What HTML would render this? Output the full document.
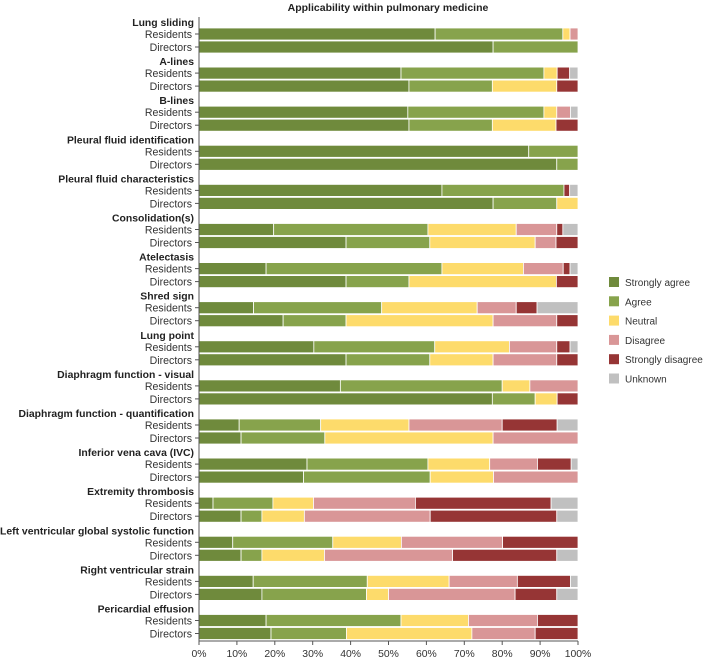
<!DOCTYPE html>
<html><head><meta charset="utf-8"><style>
body{margin:0;background:#fff}
svg{display:block;font-family:"Liberation Sans",sans-serif}
</style></head><body>
<svg id="chart" width="704" height="661"></svg>
<script>
const groups=["Lung sliding","A-lines","B-lines","Pleural fluid identification","Pleural fluid characteristics","Consolidation(s)","Atelectasis","Shred sign","Lung point","Diaphragm function - visual","Diaphragm function - quantification","Inferior vena cava (IVC)","Extremity thrombosis","Left ventricular global systolic function","Right ventricular strain","Pericardial effusion"];
const respondents=["Residents","Directors"];
const seriesNames=["Strongly agree","Agree","Neutral","Disagree","Strongly disagree","Unknown"];
const stronglyAgree=[62.3,77.6,53.3,55.4,55.1,55.4,87,94.4,64.1,77.6,19.7,38.8,17.7,38.8,14.4,22.2,30.3,38.8,37.3,77.4,10.6,11.1,28.5,27.6,3.7,11.1,8.9,11.1,14.3,16.6,17.7,19];
const agree=[33.7,22.4,37.7,22,35.9,22,13,5.6,32.2,16.8,40.7,22.1,46.4,16.6,33.8,16.6,31.9,22.1,42.7,11.3,21.5,22.1,31.9,33.4,15.8,5.5,26.4,5.5,30.1,27.6,35.6,19.9];
const neutral=[1.9,0,3.5,17,3.4,16.8,0,0,0,5.6,23.3,27.8,21.5,38.9,25.2,38.8,19.7,16.7,7.3,5.8,23.3,44.4,16.3,16.7,10.7,11.2,18.1,16.5,21.6,5.8,17.8,33.1];
const disagree=[2.1,0,0,0,3.6,0,0,0,0,0,10.7,5.5,10.5,0,10.3,16.8,12.5,16.8,12.7,0,24.6,22.4,12.6,22.3,26.9,33.2,26.7,33.8,18,33.4,18.2,16.7];
const stronglyDisagree=[0,0,3.3,5.6,0,5.8,0,0,1.5,0,1.6,5.8,1.8,5.7,5.5,5.6,3.5,5.6,0,5.5,14.5,0,8.9,0,35.8,33.4,19.9,27.5,14,11,10.7,11.3];
const unknown=[0,0,2.2,0,2,0,0,0,2.2,0,4,0,2.1,0,10.8,0,2.1,0,0,0,5.5,0,1.8,0,7.1,5.6,0,5.6,2,5.6,0,0];
const xTicks=[0,10,20,30,40,50,60,70,80,90,100];

const colors=["#6f8a3c","#87a34c","#fddb6b","#d99697","#963535","#c0c0c0"];
const series=[stronglyAgree,agree,neutral,disagree,stronglyDisagree,unknown];
const svg=document.getElementById('chart');
const NS="http://www.w3.org/2000/svg";
const X0=199,W=379,Y0=34,PITCH=39.1,BH=12;
const x=v=>X0+v/100*W;
const rowY=i=>Y0+Math.floor(i/2)*PITCH+(i%2)*13;
function mk(tag,attrs,txt){const e=document.createElementNS(NS,tag);for(const k in attrs)e.setAttribute(k,attrs[k]);if(txt!==undefined)e.textContent=txt;svg.appendChild(e);return e;}

const t=mk('text',{x:388,y:11,'text-anchor':'middle','font-size':10.5,'font-weight':'bold',fill:'#222'},'Applicability within pulmonary medicine');



groups.forEach((g,gi)=>{
  const h=mk('text',{x:194,y:rowY(gi*2)-8,'text-anchor':'end','font-size':10.4,'font-weight':'bold',fill:'#222'},g);
  
  
});
for(let i=0;i<stronglyAgree.length;i++){
  const cy=rowY(i);
  const l=mk('text',{x:192,y:cy+4,'text-anchor':'end','font-size':10.6,fill:'#333'},respondents[i%2]);
  
  
  mk('line',{x1:195,x2:199,y1:cy,y2:cy,stroke:'#555','stroke-width':1});
  let acc=0;
  series.forEach((s,si)=>{
    const v=s[i];
    if(v>0){
      const r=mk('rect',{x:x(acc),y:cy-BH/2,width:x(acc+v)-x(acc),height:BH,fill:colors[si],stroke:'#fff','stroke-width':0.8});
      
      
    }
    acc+=v;
  });
}
mk('line',{x1:X0,x2:X0,y1:17,y2:641,stroke:'#555','stroke-width':1});
mk('line',{x1:X0,x2:X0+W,y1:641,y2:641,stroke:'#555','stroke-width':1});
xTicks.forEach(v=>{
  mk('line',{x1:x(v),x2:x(v),y1:641,y2:645,stroke:'#555'});
  const tl=mk('text',{x:x(v),y:657,'text-anchor':'middle','font-size':10.4,fill:'#333'},v+'%');
  
  
});
seriesNames.forEach((n,i)=>{
  const y=282+i*19.3;
  const r=mk('rect',{x:609,y:y-5,width:10,height:10,fill:colors[i]});
  
  
  const lt=mk('text',{x:625,y:y+4,'font-size':10,fill:'#333'},n);
  
  
});
</script>
</body></html>
